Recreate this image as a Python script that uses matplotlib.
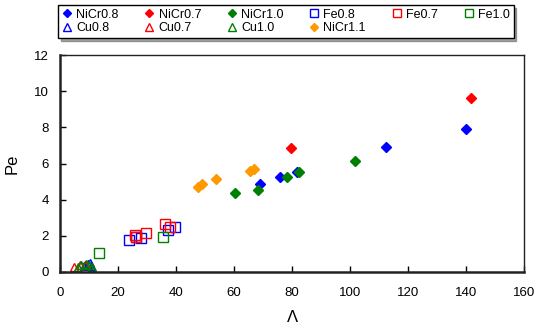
import matplotlib
matplotlib.use("Agg")
import matplotlib.pyplot as plt

plt.rcParams['font.family'] = ['Liberation Sans', 'DejaVu Sans']

# Data (Lambda, Pe)
nicr08_x = [69.1, 75.9, 81.8, 112.4, 140.1]
nicr08_y = [4.85, 5.27, 5.55, 6.93, 7.91]
nicr07_x = [79.8, 141.6]
nicr07_y = [6.84, 9.64]
nicr10_x = [60.2, 68.3, 78.4, 82.5, 101.7]
nicr10_y = [4.39, 4.52, 5.24, 5.51, 6.14]
nicr11_x = [47.7, 48.8, 53.8, 65.5, 66.9]
nicr11_y = [4.68, 4.87, 5.16, 5.57, 5.71]
fe08_x = [23.9, 26.2, 27.8, 37.1, 39.7]
fe08_y = [1.77, 1.94, 1.86, 2.32, 2.49]
fe07_x = [25.9, 26.1, 29.5, 36.2, 37.9]
fe07_y = [2.05, 1.92, 2.17, 2.64, 2.50]
fe10_x = [13.3, 35.4]
fe10_y = [1.05, 1.92]
cu08_x = [8.2, 9.6, 10.4, 10.8]
cu08_y = [0.35, 0.45, 0.52, 0.33]
cu07_x = [4.7, 6.8, 8.6]
cu07_y = [0.30, 0.36, 0.40]
cu10_x = [6.3, 7.4, 8.8, 9.9, 11.2]
cu10_y = [0.30, 0.36, 0.42, 0.40, 0.30]

x_ticks = [0, 20, 40, 60, 80, 100, 120, 140, 160]
y_ticks = [0, 2, 4, 6, 8, 10, 12]

BLUE, RED, GREEN, ORANGE = '#0000FF', '#FF0000', '#008000', '#FF9900'

fig = plt.figure(figsize=(5.34, 3.32), dpi=100)
ax = fig.add_axes([60/534, (332-272)/332, 464/534, 217/332])

h = {}
h['NiCr0.8'] = ax.plot(nicr08_x, nicr08_y, 'D', color=BLUE, ms=5, mec=BLUE, lw=0)[0]
h['NiCr0.7'] = ax.plot(nicr07_x, nicr07_y, 'D', color=RED, ms=5, mec=RED, lw=0)[0]
h['NiCr1.0'] = ax.plot(nicr10_x, nicr10_y, 'D', color=GREEN, ms=5, mec=GREEN, lw=0)[0]
h['Fe0.8'] = ax.plot(fe08_x, fe08_y, 's', mfc='none', mec=BLUE, ms=6.5, mew=1.0, lw=0)[0]
h['Fe0.7'] = ax.plot(fe07_x, fe07_y, 's', mfc='none', mec=RED, ms=6.5, mew=1.0, lw=0)[0]
h['Fe1.0'] = ax.plot(fe10_x, fe10_y, 's', mfc='none', mec=GREEN, ms=6.5, mew=1.0, lw=0)[0]
h['Cu0.8'] = ax.plot(cu08_x, cu08_y, '^', mfc='none', mec=BLUE, ms=6, mew=1.0, lw=0)[0]
h['Cu0.7'] = ax.plot(cu07_x, cu07_y, '^', mfc='none', mec=RED, ms=6, mew=1.0, lw=0)[0]
h['Cu1.0'] = ax.plot(cu10_x, cu10_y, '^', mfc='none', mec=GREEN, ms=6, mew=1.0, lw=0)[0]
h['NiCr1.1'] = ax.plot(nicr11_x, nicr11_y, 'D', color=ORANGE, ms=5, mec=ORANGE, lw=0)[0]

ax.set_xlim(0, 160)
ax.set_ylim(0, 12)
ax.set_xticks(x_ticks)
ax.set_yticks(y_ticks)
ax.tick_params(direction='in', length=4, width=1, labelsize=9.5, pad=8, colors='black')
ax.tick_params(axis='x', pad=11)
for s in ['left', 'bottom']:
    ax.spines[s].set_linewidth(1.8)
    ax.spines[s].set_color('#222222')
for s in ['top', 'right']:
    ax.spines[s].set_linewidth(1.0)
    ax.spines[s].set_color('#222222')

ax.set_xlabel('Λ', fontsize=12, labelpad=8)
ax.set_ylabel('Pe', fontsize=12, labelpad=10)

order = ['NiCr0.8', 'Cu0.8', 'NiCr0.7', 'Cu0.7', 'NiCr1.0', 'Cu1.0',
         'Fe0.8', 'NiCr1.1', 'Fe0.7', 'Fe1.0']
leg = fig.legend([h[k] for k in order], order, ncol=6, loc='upper left',
                 bbox_to_anchor=(58/534, 1 - 5/332), borderaxespad=0,
                 fontsize=9, frameon=True, fancybox=False, shadow=True,
                 edgecolor='black', handlelength=0.8, handletextpad=0.35,
                 columnspacing=2.05, borderpad=0.3, labelspacing=0.1,
                 markerscale=0.85)
leg.get_frame().set_linewidth(1.0)

fig.savefig('out.png', dpi=100)
